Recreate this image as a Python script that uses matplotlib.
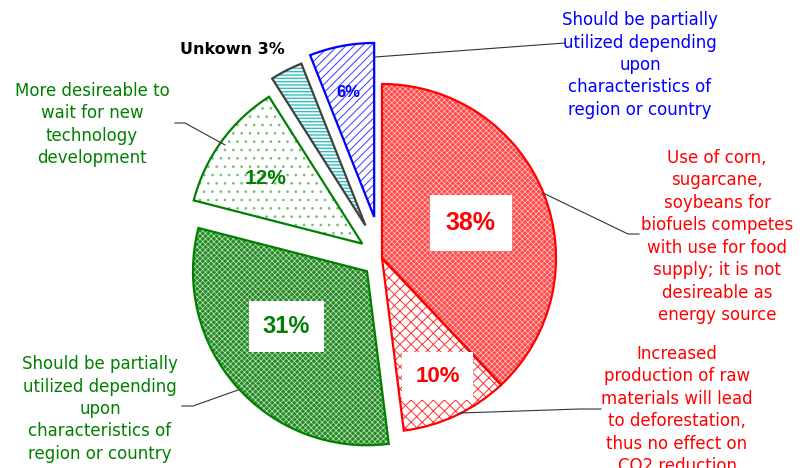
import math
import matplotlib.pyplot as plt

# shares of answers, clockwise from 12 o'clock
shares = [38, 10, 31, 12, 3, 6]
pct_text = ['38%', '10%', '31%', '12%', '', '6%']
explode_frac = [0, 0, 0.115, 0.14, 0.21, 0.24]

note_corn = ("Use of corn,\nsugarcane,\nsoybeans for\nbiofuels competes\n"
             "with use for food\nsupply; it is not\ndesireable as\nenergy source")
note_forest = ("Increased\nproduction of raw\nmaterials will lead\n"
               "to deforestation,\nthus no effect on\nCO2 reduction")
note_partial = "Should be partially\nutilized depending\nupon\ncharacteristics of\nregion or country"
note_wait = "More desireable to\nwait for new\ntechnology\ndevelopment"
note_unknown = "Unkown 3%"

# styles per slice
face_cols = ['#ff4a4a', 'white', '#268a26', 'white', 'white', 'white']
hatch_cols = ['#ffd0d0', '#ff3030', '#d0ecd0', '#70c070', '#30c0c0', '#3a3aff']
hatches = ['xxxxxx', 'xxx', 'xxxxxx', '..', '-----', '////']
hatch_lw = [0.45, 0.7, 0.45, 0.7, 1.0, 0.7]
edge_cols = ['#ff0000', '#ff0000', '#008000', '#008000', '#404040', '#0000ff']

RED = '#ff0000'
GREEN = '#008000'
BLUE = '#0000ff'
num_font = ['Liberation Sans Narrow', 'Liberation Sans', 'DejaVu Sans']

fig = plt.figure(figsize=(8.06, 4.68), dpi=100)
ax = fig.add_axes([0, 0, 1, 1])
R = 174
C = (382, 210)
expl = [e * R for e in explode_frac]

wedges, _ = ax.pie(shares, explode=expl, radius=R, center=C, startangle=90,
                   counterclock=False, wedgeprops=dict(linewidth=0))
for w, fc, hc, h, hl in zip(wedges, face_cols, hatch_cols, hatches, hatch_lw):
    w.set_facecolor(fc)
    w.set_edgecolor(hc)
    w.set_hatch(h)
    if hasattr(w, 'set_hatch_linewidth'):
        w.set_hatch_linewidth(hl)

outlines, _ = ax.pie(shares, explode=expl, radius=R, center=C, startangle=90,
                     counterclock=False,
                     wedgeprops=dict(facecolor='none', linewidth=1.6))
for w, ec in zip(outlines, edge_cols):
    w.set_edgecolor(ec)

# percentage labels inside the slices
label_dist = [0.55, 0.75, 0.56, 0.67, 0, 0.73]
label_turn = [0, 0, -7, 2, 0, 1]
label_size = [18, 16, 17, 15, 12, 12]
label_col = [RED, RED, GREEN, GREEN, 'k', BLUE]
label_box = [0.65, 0.6, 0.6, None, None, None]
for w, t, d, tn, fs, col, bx in zip(wedges, pct_text, label_dist, label_turn,
                                     label_size, label_col, label_box):
    if not t:
        continue
    th = math.radians((w.theta1 + w.theta2) / 2 + tn)
    x = w.center[0] + d * w.r * math.cos(th)
    y = w.center[1] + d * w.r * math.sin(th)
    kw = {}
    if bx:
        kw['bbox'] = dict(facecolor='white', edgecolor='none', boxstyle='square,pad=%s' % bx)
    ax.text(x, y, t, ha='center', va='center', fontsize=fs, color=col,
            fontweight='bold', family=num_font, **kw)

# leader lines
lead = dict(color='#333333', linewidth=0.8)
ax.plot([375, 565], [411, 425], **lead)
ax.plot([543, 628, 639], [275, 234, 234], **lead)
ax.plot([460, 580, 601], [55, 59, 59], **lead)
ax.plot([238, 193, 182], [78, 62, 62], **lead)
ax.plot([225, 185, 175], [323, 345, 345], **lead)

txt = dict(ha='center', va='center', fontsize=12, linespacing=1.32)
ax.text(640, 403, note_partial, color=BLUE, **txt)
ax.text(717, 231.5, note_corn, color=RED, **txt)
ax.text(677, 58, note_forest, color=RED, **txt)
ax.text(100, 59, note_partial, color=GREEN, **txt)
ax.text(92, 343.5, note_wait, color=GREEN, **txt)
ax.text(232, 419, note_unknown, ha='center', va='center', fontsize=11.5,
        fontweight='bold', color='black')

ax.set_xlim(0, 806)
ax.set_ylim(0, 468)
ax.axis('off')

fig.savefig('out.png', dpi=100)
